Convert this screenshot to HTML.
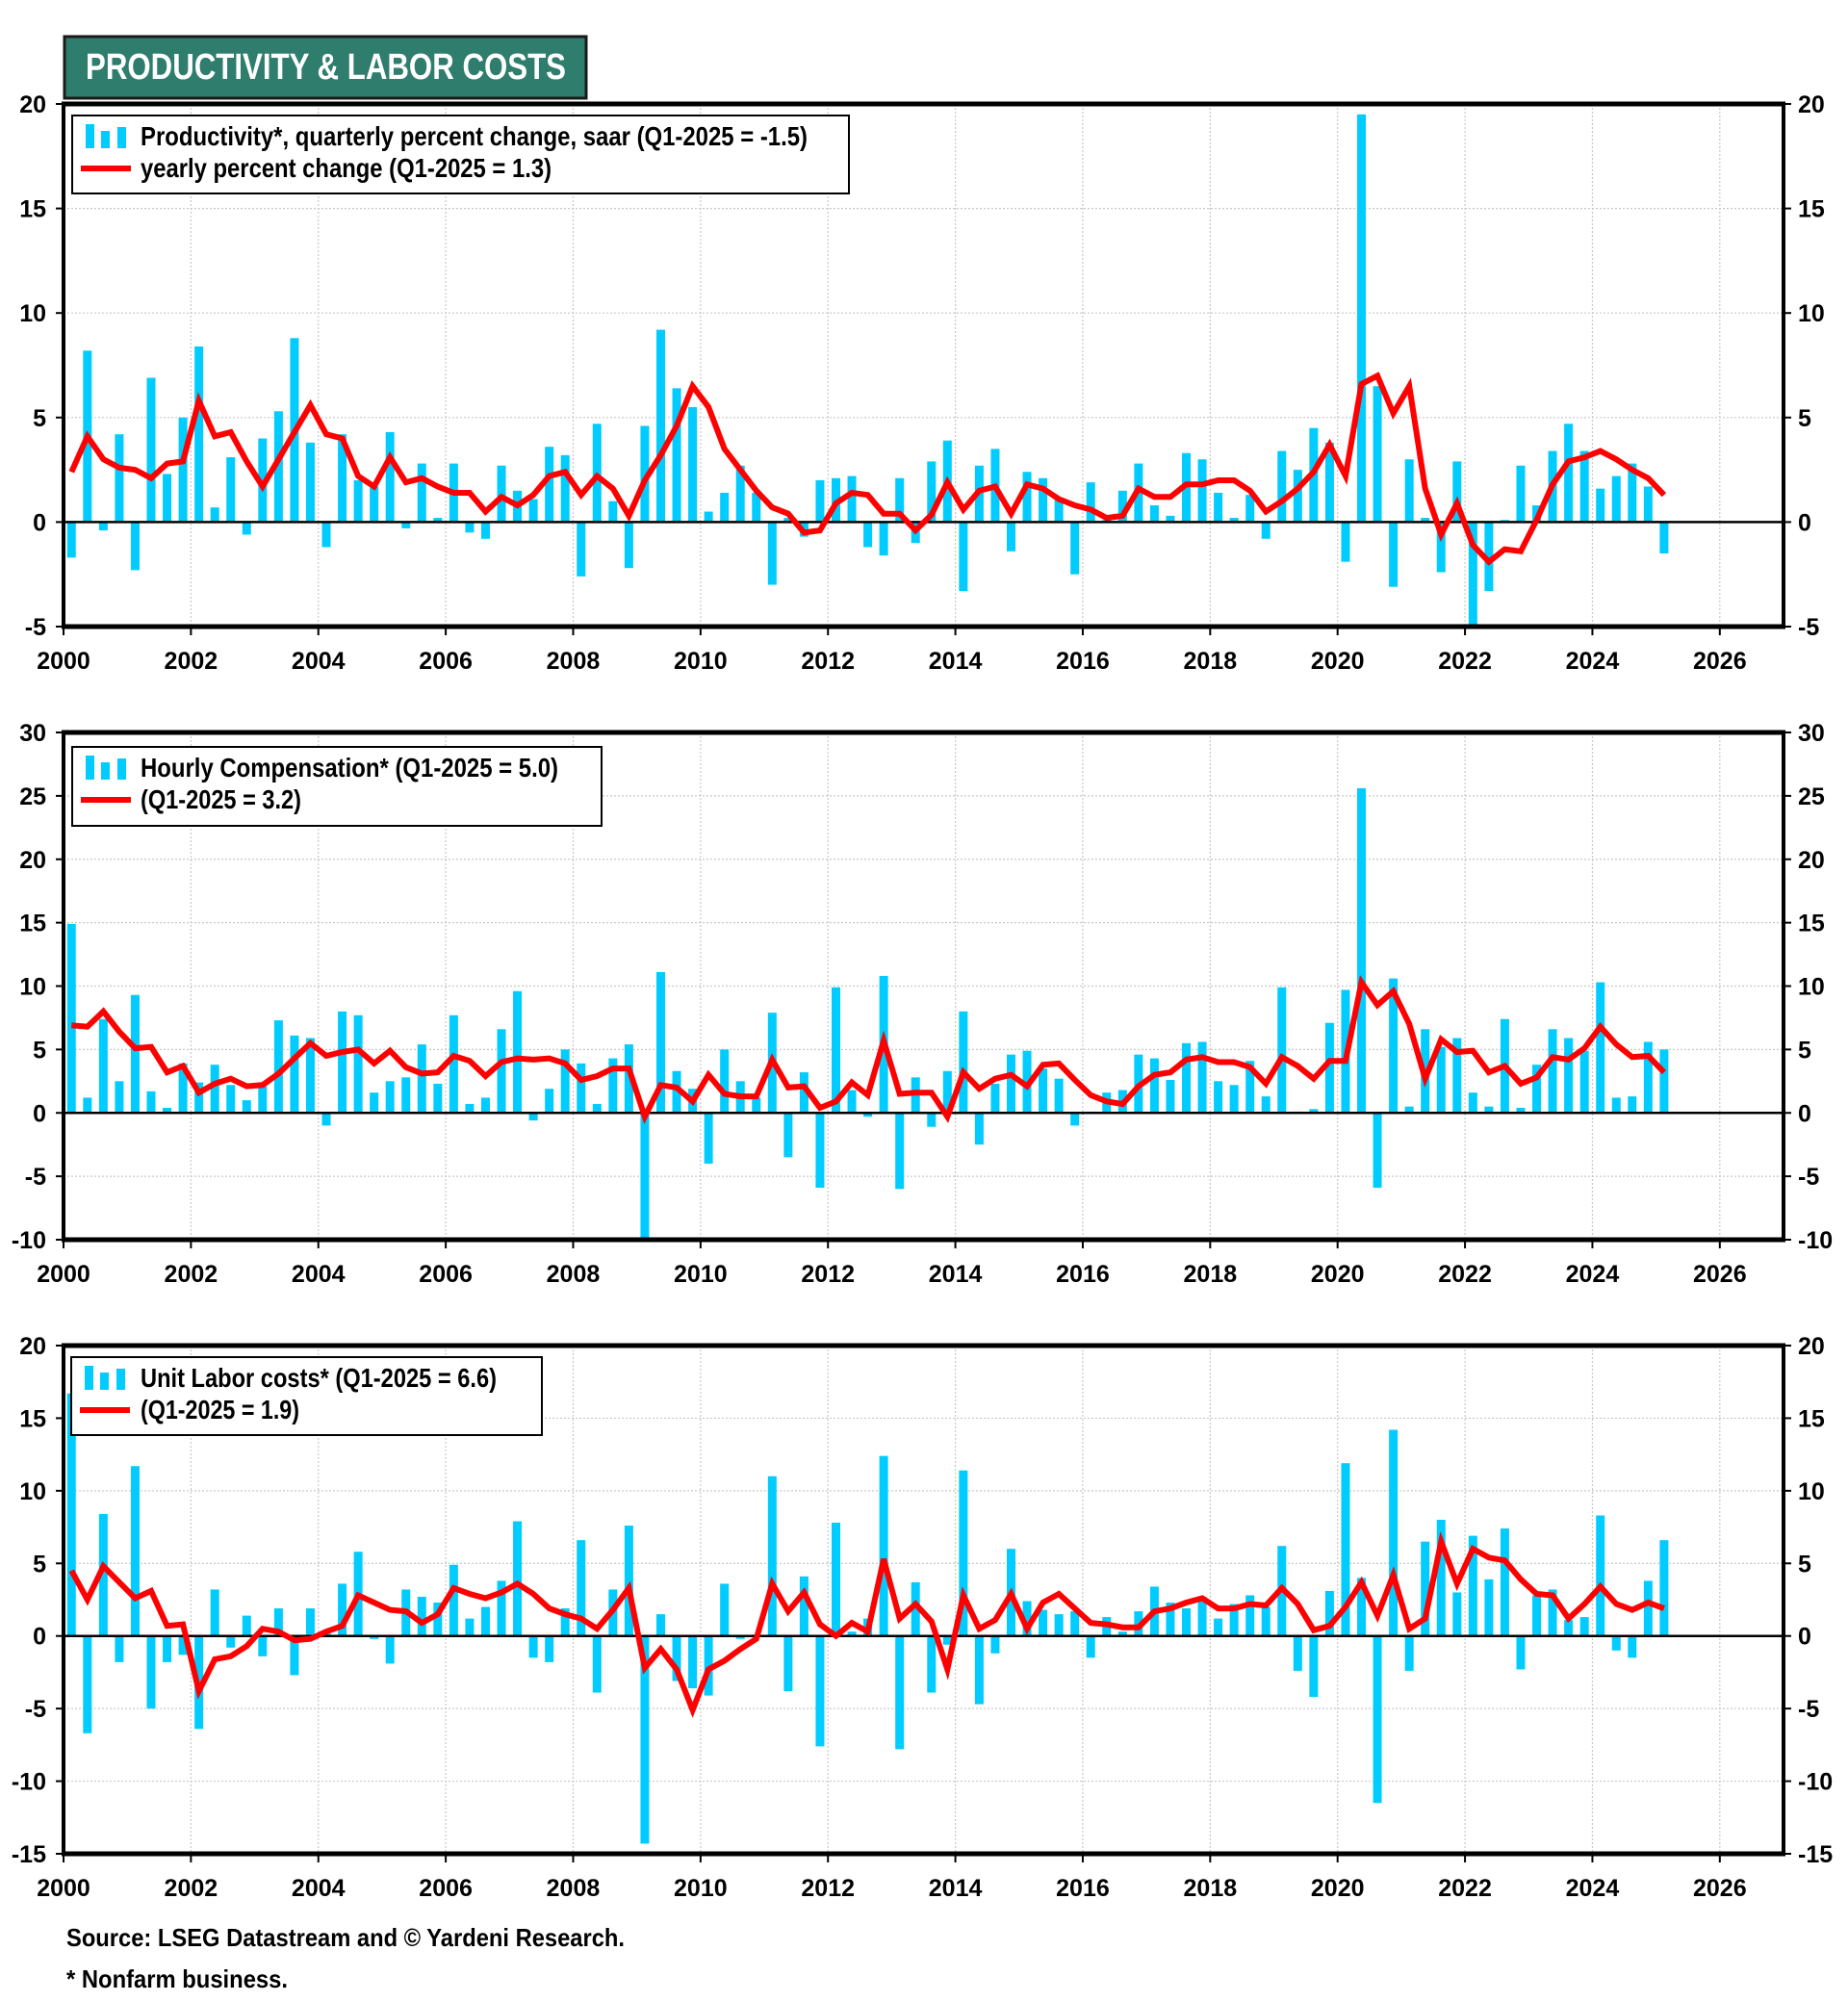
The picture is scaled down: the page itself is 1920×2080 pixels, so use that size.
<!DOCTYPE html>
<html><head><meta charset="utf-8">
<style>
html,body{margin:0;padding:0;background:#fff;}
svg{display:block;}
text{font-family:"Liberation Sans Narrow","Liberation Sans",sans-serif;font-weight:bold;}
</style></head>
<body>
<svg id="chart" width="1920" height="2080" viewBox="0 0 1920 2080" xmlns="http://www.w3.org/2000/svg">
  <g>
    <rect x="67" y="38" width="542" height="64" fill="#2f7d6d" stroke="#1a1a1a" stroke-width="3"/>
    <text x="89" y="82" font-size="38" fill="#fff" textLength="499" lengthAdjust="spacingAndGlyphs">PRODUCTIVITY &amp; LABOR COSTS</text>
  </g>
  <g id="panels"></g>
  <text x="69" y="2022" font-size="26" fill="#000" textLength="580" lengthAdjust="spacingAndGlyphs">Source: LSEG Datastream and © Yardeni Research.</text>
  <text x="69" y="2065" font-size="26" fill="#000" textLength="230" lengthAdjust="spacingAndGlyphs">* Nonfarm business.</text>
</svg>
<script>
// ---- data (quarterly, 2000Q1 .. 2025Q1) ----
const years = [2000,2002,2004,2006,2008,2010,2012,2014,2016,2018,2020,2022,2024,2026];
const prodBars = [-1.7,8.2,-0.4,4.2,-2.3,6.9,2.3,5.0,8.4,0.7,3.1,-0.6,4.0,5.3,8.8,3.8,-1.2,4.2,2.0,1.7,4.3,-0.3,2.8,0.2,2.8,-0.5,-0.8,2.7,1.5,1.1,3.6,3.2,-2.6,4.7,1.0,-2.2,4.6,9.2,6.4,5.5,0.5,1.4,2.7,1.4,-3.0,0.2,-0.7,2.0,2.1,2.2,-1.2,-1.6,2.1,-1.0,2.9,3.9,-3.3,2.7,3.5,-1.4,2.4,2.1,1.1,-2.5,1.9,0.1,1.5,2.8,0.8,0.3,3.3,3.0,1.4,0.2,1.3,-0.8,3.4,2.5,4.5,3.8,-1.9,19.5,6.5,-3.1,3.0,0.2,-2.4,2.9,-6.0,-3.3,0.1,2.7,0.8,3.4,4.7,3.4,1.6,2.2,2.8,1.7,-1.5];
const prodLine = [2.4,4.1,3.0,2.6,2.5,2.1,2.8,2.9,5.8,4.1,4.3,2.9,1.7,3.0,4.3,5.6,4.2,4.0,2.2,1.7,3.1,1.9,2.1,1.7,1.4,1.4,0.5,1.2,0.8,1.3,2.2,2.4,1.3,2.2,1.6,0.3,2.0,3.2,4.6,6.5,5.5,3.5,2.5,1.5,0.7,0.4,-0.5,-0.4,0.9,1.4,1.3,0.4,0.4,-0.4,0.35,1.9,0.6,1.5,1.7,0.4,1.8,1.6,1.1,0.8,0.6,0.2,0.3,1.6,1.2,1.2,1.8,1.8,2.0,2.0,1.5,0.5,1.0,1.6,2.4,3.7,2.2,6.6,7.0,5.2,6.5,1.6,-0.6,0.9,-1.1,-1.9,-1.3,-1.4,0.1,1.8,2.9,3.1,3.4,3.0,2.5,2.1,1.3];
const compBars = [14.9,1.2,7.4,2.5,9.3,1.7,0.4,3.9,2.4,3.8,2.2,1.0,2.1,7.3,6.1,5.9,-1.0,8.0,7.7,1.6,2.5,2.8,5.4,2.3,7.7,0.7,1.2,6.6,9.6,-0.6,1.9,5.0,3.9,0.7,4.3,5.4,-11,11.1,3.3,1.9,-4.0,5.0,2.5,1.2,7.9,-3.5,3.2,-5.9,9.9,1.8,-0.3,10.8,-6.0,2.8,-1.1,3.3,8.0,-2.5,2.3,4.6,4.9,3.5,2.7,-1.0,0.1,1.6,1.8,4.6,4.3,2.6,5.5,5.6,2.5,2.2,4.1,1.3,9.9,0.1,0.3,7.1,9.7,25.6,-5.9,10.6,0.5,6.6,5.2,5.9,1.6,0.5,7.4,0.4,3.8,6.6,5.9,4.9,10.3,1.2,1.3,5.6,5.0];
const compLine = [6.9,6.8,8.0,6.4,5.1,5.2,3.2,3.7,1.6,2.3,2.7,2.1,2.2,3.1,4.3,5.5,4.5,4.8,5.0,3.9,4.9,3.6,3.1,3.2,4.5,4.1,2.9,4.0,4.3,4.2,4.3,3.9,2.6,2.9,3.5,3.5,-0.3,2.2,2.0,0.9,3.0,1.5,1.3,1.3,4.2,2.0,2.1,0.4,0.9,2.4,1.4,5.7,1.5,1.6,1.6,-0.3,3.2,1.9,2.7,3.0,2.1,3.8,3.9,2.6,1.4,0.9,0.7,2.1,3.0,3.2,4.2,4.4,4.0,4.0,3.6,2.3,4.4,3.7,2.7,4.1,4.1,10.3,8.5,9.6,7.0,2.7,5.8,4.8,4.9,3.2,3.7,2.3,2.8,4.4,4.2,5.1,6.8,5.4,4.4,4.5,3.2];
const ulcBars = [16.7,-6.7,8.4,-1.8,11.7,-5.0,-1.8,-1.3,-6.4,3.2,-0.8,1.4,-1.4,1.9,-2.7,1.9,0.2,3.6,5.8,-0.2,-1.9,3.2,2.7,2.3,4.9,1.2,2.0,3.8,7.9,-1.5,-1.8,1.9,6.6,-3.9,3.2,7.6,-14.3,1.5,-3.1,-3.6,-4.1,3.6,-0.2,0.1,11.0,-3.8,4.1,-7.6,7.8,0.3,1.2,12.4,-7.8,3.7,-3.9,-0.6,11.4,-4.7,-1.2,6.0,2.4,1.8,1.5,1.7,-1.5,1.3,0.3,1.7,3.4,2.3,1.9,2.7,1.2,2.2,2.8,2.0,6.2,-2.4,-4.2,3.1,11.9,4.0,-11.5,14.2,-2.4,6.5,8.0,3.0,6.9,3.9,7.4,-2.3,2.8,3.2,1.1,1.3,8.3,-1.0,-1.5,3.8,6.6];
const ulcLine = [4.5,2.5,4.8,3.7,2.6,3.1,0.7,0.8,-3.8,-1.6,-1.4,-0.7,0.5,0.3,-0.3,-0.2,0.3,0.7,2.8,2.3,1.8,1.7,0.9,1.5,3.3,2.9,2.6,3.0,3.6,2.9,1.9,1.5,1.2,0.5,1.8,3.3,-2.2,-0.9,-2.3,-5.1,-2.3,-1.7,-0.9,-0.2,3.6,1.7,3.0,0.8,0.0,0.9,0.3,5.3,1.2,2.2,1.0,-2.3,2.8,0.5,1.1,2.9,0.5,2.3,2.9,1.9,0.9,0.8,0.6,0.6,1.7,1.9,2.3,2.6,1.9,1.9,2.2,2.1,3.3,2.2,0.4,0.7,2.0,3.7,1.4,4.2,0.5,1.2,6.5,3.6,6.0,5.4,5.2,3.9,2.9,2.8,1.2,2.2,3.4,2.2,1.8,2.3,1.9];
const prodTicks = [-5,0,5,10,15,20];
const compTicks = [-10,-5,0,5,10,15,20,25,30];
const ulcTicks = [-15,-10,-5,0,5,10,15,20];

const NS = "http://www.w3.org/2000/svg";
const X0 = 66, X1 = 1853, YR0 = 2000, YR1 = 2027;
function xYear(y){ return X0 + (y - YR0) * (X1 - X0) / (YR1 - YR0); }
function xQ(i){ return xYear(YR0 + i * 0.25 + 0.125); }
function mk(tag, attrs, parent){
  const e = document.createElementNS(NS, tag);
  for (const k in attrs) e.setAttribute(k, attrs[k]);
  parent.appendChild(e); return e;
}
const root = document.getElementById('panels');

const panels = [
  {key:'productivity', top:108, bot:651, min:-5, max:20, ticks:prodTicks, bars:prodBars, line:prodLine,
   legend:{x:75,y:120,w:807,h:81,t1:'Productivity*, quarterly percent change, saar (Q1-2025 = -1.5)', w1:693, t2:'yearly percent change (Q1-2025 = 1.3)', w2:427}},
  {key:'compensation', top:761, bot:1288, min:-10, max:30, ticks:compTicks, bars:compBars, line:compLine,
   legend:{x:75,y:776,w:550,h:82,t1:'Hourly Compensation* (Q1-2025 = 5.0)', w1:434, t2:'(Q1-2025 = 3.2)', w2:167}},
  {key:'unit-labor-costs', top:1398, bot:1926, min:-15, max:20, ticks:ulcTicks, bars:ulcBars, line:ulcLine,
   legend:{x:74,y:1410,w:489,h:81,t1:'Unit Labor costs* (Q1-2025 = 6.6)', w1:370, t2:'(Q1-2025 = 1.9)', w2:165}}
];

panels.forEach((p, pi) => {
  const g = mk('g', {}, root);
  
  
  const yv = v => p.bot - (v - p.min) * (p.bot - p.top) / (p.max - p.min);
  const cid = 'clip' + pi;
  const cp = mk('clipPath', {id: cid}, g);
  mk('rect', {x: X0, y: p.top, width: X1 - X0, height: p.bot - p.top}, cp);

  const grid = mk('g', {stroke:'#c8c8c8','stroke-width':1.2,'stroke-dasharray':'2,2'}, g);
  
  
  p.ticks.forEach(t => { if (t !== 0 && t !== p.min && t !== p.max) mk('line', {x1:X0, x2:X1, y1:yv(t), y2:yv(t)}, grid); });
  years.forEach(yr => { if (yr > YR0) mk('line', {x1:xYear(yr), x2:xYear(yr), y1:p.top, y2:p.bot}, grid); });

  const bg = mk('g', {'clip-path':'url(#' + cid + ')', fill:'#00ccff'}, g);
  
  
  p.bars.forEach((v, i) => {
    const y0 = yv(0), y1 = yv(v);
    const r = mk('rect', {x: xQ(i) - 4.5, y: Math.min(y0, y1), width: 9, height: Math.abs(y1 - y0)}, bg);
    
    
  });

  const z = mk('line', {x1:X0, x2:X1, y1:yv(0), y2:yv(0), stroke:'#000', 'stroke-width':2.5}, g);
  
  

  const pts = p.line.map((v, i) => xQ(i).toFixed(1) + ',' + yv(v).toFixed(1)).join(' ');
  const pl = mk('polyline', {points: pts, fill:'none', stroke:'#ff0000', 'stroke-width':6, 'stroke-linejoin':'miter', 'clip-path':'url(#' + cid + ')'}, g);
  
  

  const fr = mk('g', {stroke:'#000'}, g);
  
  
  mk('line', {x1:X0 - 2, x2:X1 + 2, y1:p.top, y2:p.top, 'stroke-width':5}, fr);
  mk('line', {x1:X0 - 2, x2:X1 + 2, y1:p.bot, y2:p.bot, 'stroke-width':5}, fr);
  mk('line', {x1:X0, x2:X0, y1:p.top, y2:p.bot, 'stroke-width':4}, fr);
  mk('line', {x1:X1, x2:X1, y1:p.top, y2:p.bot, 'stroke-width':4}, fr);

  const yl = mk('g', {'font-size':25, fill:'#000'}, g);
  
  
  p.ticks.forEach(t => {
    const y = yv(t);
    mk('line', {x1:X0 - 8, x2:X0, y1:y, y2:y, stroke:'#000', 'stroke-width':2}, yl);
    mk('line', {x1:X1, x2:X1 + 8, y1:y, y2:y, stroke:'#000', 'stroke-width':2}, yl);
    const a = mk('text', {x:48, y:y + 9, 'text-anchor':'end'}, yl); a.textContent = t;
    const b = mk('text', {x:1868, y:y + 9, 'text-anchor':'start'}, yl); b.textContent = t;
  });

  const xl = mk('g', {'font-size':25, fill:'#000'}, g);
  
  
  years.forEach(yr => {
    const x = xYear(yr);
    mk('line', {x1:x, x2:x, y1:p.bot, y2:p.bot + 9, stroke:'#000', 'stroke-width':2}, xl);
    const t = mk('text', {x:x, y:p.bot + 44, 'text-anchor':'middle'}, xl); t.textContent = yr;
  });

  const L = p.legend;
  const lg = mk('g', {}, g);
  
  
  mk('rect', {x:L.x, y:L.y, width:L.w, height:L.h, fill:'#fff', stroke:'#000', 'stroke-width':2}, lg);
  mk('rect', {x:L.x + 14, y:L.y + 9, width:9, height:25, fill:'#00ccff'}, lg);
  mk('rect', {x:L.x + 30, y:L.y + 16, width:9, height:18, fill:'#00ccff'}, lg);
  mk('rect', {x:L.x + 47, y:L.y + 12, width:9, height:22, fill:'#00ccff'}, lg);
  mk('line', {x1:L.x + 9, x2:L.x + 61, y1:L.y + 55, y2:L.y + 55, stroke:'#ff0000', 'stroke-width':6}, lg);
  const t1 = mk('text', {x:146, y:L.y + 31, 'font-size':28, fill:'#000', textLength:L.w1, lengthAdjust:'spacingAndGlyphs'}, lg);
  t1.textContent = L.t1;
  const t2 = mk('text', {x:146, y:L.y + 64, 'font-size':28, fill:'#000', textLength:L.w2, lengthAdjust:'spacingAndGlyphs'}, lg);
  t2.textContent = L.t2;
});
</script>
</body></html>
